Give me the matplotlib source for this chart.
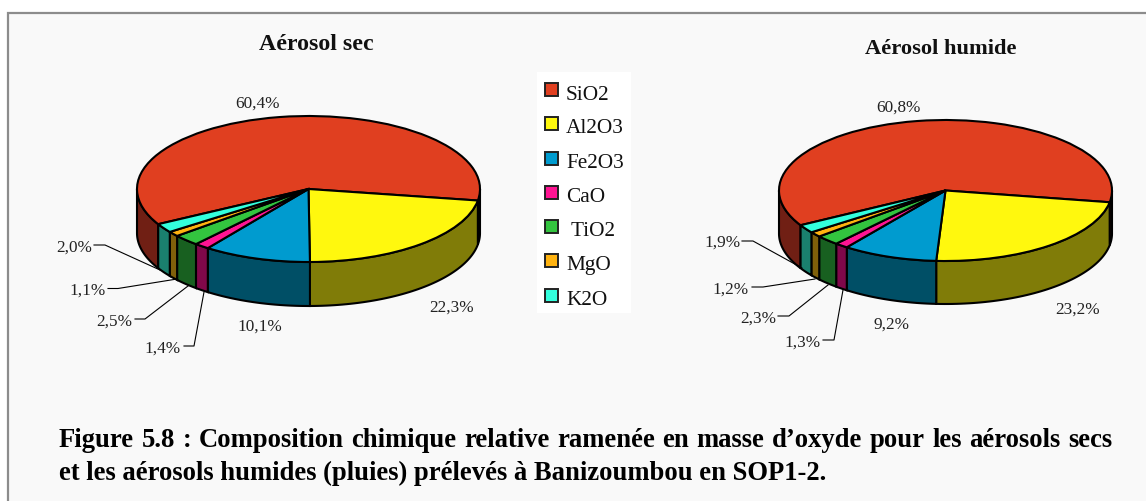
import numpy as np
import matplotlib
matplotlib.use("Agg")
import matplotlib.pyplot as plt
from matplotlib.patches import Rectangle

plt.rcParams['font.family'] = ['Liberation Serif', 'DejaVu Serif']

# Data
oxides = ['SiO2', 'Al2O3', 'Fe2O3', 'CaO', 'TiO2', 'MgO', 'K2O']
legend_labels = ['SiO2', 'Al2O3', 'Fe2O3', 'CaO', ' TiO2', 'MgO', 'K2O']
sec_values = [60.4, 22.3, 10.1, 1.4, 2.5, 1.1, 2.0]
humide_values = [60.8, 23.2, 9.2, 1.3, 2.3, 1.2, 1.9]
sec_labels = ['60,4%', '22,3%', '10,1%', '1,4%', '2,5%', '1,1%', '2,0%']
humide_labels = ['60,8%', '23,2%', '9,2%', '1,3%', '2,3%', '1,2%', '1,9%']
top_colors = ['#e03f20', '#fff80e', '#009bcf', '#ff1493', '#33c43f', '#ffb310', '#33ffdd']
side_colors = ['#701f14', '#807c08', '#004f66', '#80084a', '#186020', '#80600a', '#1a806e']
caption_1 = 'Figure 5.8 : Composition chimique relative ramenée en masse d’oxyde pour les aérosols secs'
caption_2 = 'et les aérosols humides (pluies) prélevés à Banizoumbou en SOP1-2.'

W, H = 1146, 502
BG = '#f9f9f9'


def draw_pie(values, cx, cy, rx, ry, depth, start):
    # axes box covers the ellipse and the side wall, data units = radius
    left = cx - rx - 2
    right = cx + rx + 2
    top = cy - ry - 2
    bottom = cy + ry + depth + 2
    ax = fig.add_axes([left / W, 1 - bottom / H, (right - left) / W, (bottom - top) / H])
    ax.patch.set_alpha(0)

    d = depth / ry
    shares = np.array(values) / sum(values) * 360
    a1 = start
    for share, col in zip(shares, side_colors):
        a0 = a1 - share
        # only the front part (below the horizontal axis) is visible
        for lo, hi in [(a0, a1), (a0 + 360, a1 + 360), (a0 - 360, a1 - 360)]:
            lo2, hi2 = max(lo, 180), min(hi, 360)
            if hi2 > lo2:
                t = np.radians(np.linspace(lo2, hi2, 60))
                xs = np.cos(t)
                ys = np.sin(t)
                ax.fill(np.r_[xs, xs[::-1]], np.r_[ys, ys[::-1] - d], facecolor=col,
                        edgecolor='black', linewidth=1.5, zorder=1)
        a1 = a0

    ax.pie(values, startangle=start, counterclock=False, colors=top_colors, radius=1,
           wedgeprops={'edgecolor': 'black', 'linewidth': 1.5, 'zorder': 2})
    ax.set_aspect('auto')
    ax.set_xlim(-1 - 2 / rx, 1 + 2 / rx)
    ax.set_ylim(-1 - d - 2 / ry, 1 + 2 / ry)
    ax.axis('off')


def justified_line(ax, line, x0, x1, y, size):
    # the first caption line is justified, so place it word by word
    renderer = fig.canvas.get_renderer()
    items = [ax.text(x0, y, w, fontsize=size, fontweight='bold', ha='left', va='baseline', color='black')
             for w in line.split(' ')]
    widths = [t.get_window_extent(renderer).width for t in items]
    gap = (x1 - x0 - sum(widths)) / (len(items) - 1)
    x = x0
    for t, w in zip(items, widths):
        t.set_x(x)
        x += w + gap


fig = plt.figure(figsize=(W / 100, H / 100), dpi=100, facecolor='white')

# Overlay in pixel coordinates for the frame, text and leader lines
ov = fig.add_axes([0, 0, 1, 1], zorder=0)
ov.set_xlim(0, W)
ov.set_ylim(H, 0)
ov.axis('off')
ov.add_patch(Rectangle((8, 13.5), W + 20, H, facecolor=BG, edgecolor='#8c8c8c', linewidth=1.6))
ov.add_patch(Rectangle((537, 73), 94, 241, facecolor='white', edgecolor='none'))

draw_pie(sec_values, 308.5, 190, 171.5, 73, 44, 208.8)
draw_pie(humide_values, 945.5, 191.5, 166.5, 70.5, 43, 209.5)

ov2 = fig.add_axes([0, 0, 1, 1], zorder=5)
ov2.set_xlim(0, W)
ov2.set_ylim(H, 0)
ov2.axis('off')

ov2.text(316, 45, 'Aérosol sec', fontsize=17.2, fontweight='bold', ha='center', va='center', color='#111111')
ov2.text(941, 49, 'Aérosol humide', fontsize=16.2, fontweight='bold', ha='center', va='center', color='#111111')

# Legend
legend_y = [91, 125, 160, 194, 228, 262, 297]
for y, lab, col in zip(legend_y, legend_labels, top_colors):
    ov2.add_patch(Rectangle((545, y - 7), 13, 13, facecolor=col, edgecolor='#222222', linewidth=1.4))
    ov2.text(566, y + 4, lab, fontsize=15.3, ha='left', va='center', color='#111111')

# Value labels (text x, text y) for each oxide
sec_pos = [(258, 102), (452, 306), (260, 325), (163, 347), (114, 320), (88, 289), (74, 246)]
humide_pos = [(898, 106), (1078, 308), (892, 323), (803, 341), (758, 317), (731, 288), (722, 241)]
for labs, pos in [(sec_labels, sec_pos), (humide_labels, humide_pos)]:
    for lab, (x, y) in zip(labs, pos):
        ov2.text(x, y + 1.5, lab, fontsize=12.4, ha='center', va='center', color='#222222')

# Leader lines
sec_leaders = [
    ([184, 194, 204], [347, 347, 293]),
    ([135, 145, 188], [320, 320, 287]),
    ([108, 118, 177], [289.5, 289.5, 280]),
    ([94, 105, 160], [246, 246, 271]),
]
humide_leaders = [
    ([823, 834, 843], [341, 341, 291]),
    ([778, 789, 828], [317, 317, 286]),
    ([752, 763, 815], [288, 288, 280]),
    ([742, 753, 802], [242, 242, 269]),
]
for x, y in sec_leaders + humide_leaders:
    ov2.plot(x, y, color='black', linewidth=0.8)

# Caption
justified_line(ov2, caption_1, 59, 1112, 447, 19.2)
ov2.text(59, 480, caption_2, fontsize=19.2, fontweight='bold', ha='left', va='baseline', color='black')

fig.savefig("out.png", dpi=100)
